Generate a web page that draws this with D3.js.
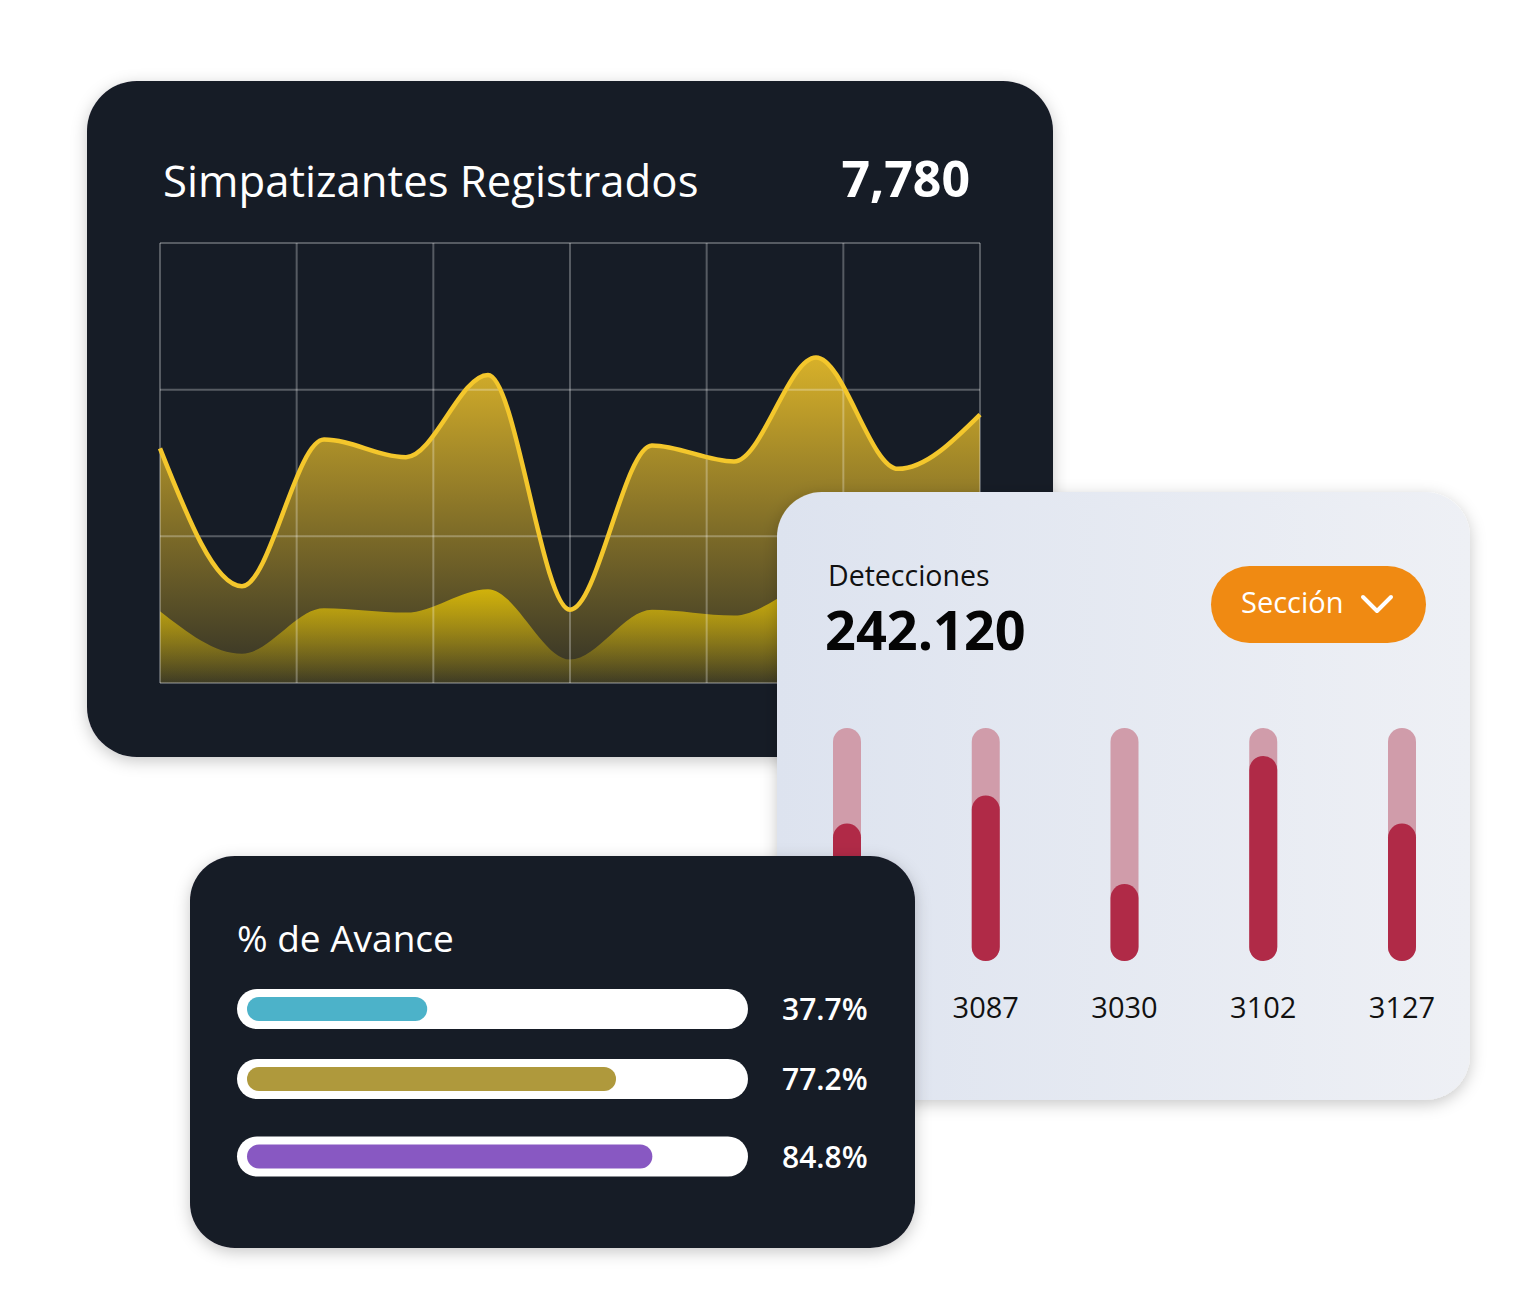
<!DOCTYPE html>
<html>
<head>
<meta charset="utf-8">
<script src="https://cdn.jsdelivr.net/npm/d3@7"></script>
<style>
  body { margin: 0; background: #fff; }
  svg { display: block; font-family: "Open Sans", "Noto Sans", sans-serif; }
</style>
</head>
<body>
<svg width="1538" height="1302"></svg>
<script>
// simpatizantes (two series, 11 points each)
var puntos = [0, 1, 2, 3, 4, 5, 6, 7, 8, 9, 10];
var serieAlta = [160, 66, 166, 154, 210, 50, 162, 151, 222, 146, 183];
var serieBaja = [49, 20, 51, 48, 64, 16, 50, 46, 67, 22, 46];

// detecciones (first label sits under the avance card)
var seccionLabels = ['', '3087', '3030', '3102', '3127'];
var seccionValues = [0.59, 0.71, 0.33, 0.88, 0.59];

// avance
var avanceLabels = ['37.7%', '77.2%', '84.8%'];
var avanceValues = [37.7, 77.2, 84.8];
var avanceColors = ['#4cb2c9', '#af993c', '#8858c2'];

var svg = d3.select('svg');
var defs = svg.append('defs');

var shadow = defs.append('filter').attr('id', 'sombra')
    .attr('x', '-10%').attr('y', '-10%').attr('width', '120%').attr('height', '125%');
shadow.append('feDropShadow')
    .attr('dx', 0).attr('dy', 4).attr('stdDeviation', 8)
    .attr('flood-color', '#000').attr('flood-opacity', 0.22);

// ---------- card 1 ----------
var card1 = svg.append('g');
card1.append('rect')
    .attr('x', 87).attr('y', 81).attr('width', 966).attr('height', 676)
    .attr('rx', 50).attr('fill', '#161a26').attr('filter', 'url(#sombra)');

card1.append('text')
    .attr('x', 163).attr('y', 197)
    .attr('fill', '#fff').attr('font-size', 43.7)
    .text('Simpatizantes Registrados');
card1.append('text')
    .attr('x', 970).attr('y', 197).attr('text-anchor', 'end')
    .attr('fill', '#fff').attr('font-size', 50).attr('font-weight', 700)
    .text('7,780');

var scaleX = d3.scaleLinear().domain([0, 10]).range([160, 980]);
var scaleY = d3.scaleLinear().domain([0, 300]).range([683, 243]);

var gAlta = defs.append('linearGradient').attr('id', 'gAlta')
    .attr('gradientUnits', 'userSpaceOnUse')
    .attr('x1', 0).attr('x2', 0).attr('y1', scaleY(d3.max(serieAlta))).attr('y2', scaleY(0));
gAlta.append('stop').attr('offset', 0).attr('stop-color', '#f2c52a').attr('stop-opacity', 0.88);
gAlta.append('stop').attr('offset', 1).attr('stop-color', '#f2c52a').attr('stop-opacity', 0.12);

var gBaja = defs.append('linearGradient').attr('id', 'gBaja')
    .attr('gradientUnits', 'userSpaceOnUse')
    .attr('x1', 0).attr('x2', 0).attr('y1', scaleY(d3.max(serieBaja))).attr('y2', scaleY(0));
gBaja.append('stop').attr('offset', 0).attr('stop-color', '#dcbb08').attr('stop-opacity', 0.95);
gBaja.append('stop').attr('offset', 1).attr('stop-color', '#dcbb08').attr('stop-opacity', 0.08);

var areaAlta = d3.area()
    .x(function(d, i) { return scaleX(puntos[i]); })
    .y0(scaleY(0))
    .y1(function(d) { return scaleY(d); })
    .curve(d3.curveMonotoneX);

var lineAlta = d3.line()
    .x(function(d, i) { return scaleX(puntos[i]); })
    .y(function(d) { return scaleY(d); })
    .curve(d3.curveMonotoneX);

card1.append('path').datum(serieAlta).attr('d', areaAlta).attr('fill', 'url(#gAlta)');
card1.append('path').datum(serieBaja).attr('d', areaAlta).attr('fill', 'url(#gBaja)');

// grid on top of the fills
var grid = card1.append('g')
    .attr('stroke', '#fff').attr('stroke-opacity', 0.28).attr('stroke-width', 2).attr('fill', 'none');
grid.selectAll('.v')
    .data(d3.range(0, 11, 10 / 6))
    .enter().append('line')
    .attr('x1', function(d) { return scaleX(d); })
    .attr('x2', function(d) { return scaleX(d); })
    .attr('y1', scaleY(300)).attr('y2', scaleY(0));
grid.selectAll('.h')
    .data([0, 100, 200, 300])
    .enter().append('line')
    .attr('x1', scaleX(0)).attr('x2', scaleX(10))
    .attr('y1', function(d) { return scaleY(d); })
    .attr('y2', function(d) { return scaleY(d); });

card1.append('path').datum(serieAlta).attr('d', lineAlta)
    .attr('fill', 'none').attr('stroke', '#f4c72c').attr('stroke-width', 4.5);

// ---------- card 2 ----------
var gCard2 = defs.append('linearGradient').attr('id', 'gCard2')
    .attr('x1', 0).attr('x2', 1).attr('y1', 0).attr('y2', 0);
gCard2.append('stop').attr('offset', 0).attr('stop-color', '#dde3ef');
gCard2.append('stop').attr('offset', 1).attr('stop-color', '#eef0f5');

var card2 = svg.append('g');
card2.append('rect')
    .attr('x', 777).attr('y', 492).attr('width', 693).attr('height', 608)
    .attr('rx', 45).attr('fill', 'url(#gCard2)').attr('filter', 'url(#sombra)');

card2.append('text')
    .attr('x', 828).attr('y', 586)
    .attr('fill', '#111').attr('font-size', 28.5)
    .text('Detecciones');
card2.append('text')
    .attr('x', 825).attr('y', 650)
    .attr('fill', '#050505').attr('font-size', 54).attr('font-weight', 700)
    .text('242.120');

card2.append('rect')
    .attr('x', 1211).attr('y', 566).attr('width', 215).attr('height', 77)
    .attr('rx', 38.5).attr('fill', '#f08a12');
card2.append('text')
    .attr('x', 1241).attr('y', 613)
    .attr('fill', '#fff').attr('font-size', 29).attr('font-weight', 500)
    .text('Sección');
card2.append('path')
    .attr('d', 'M1363,597 L1377,611 L1391,597')
    .attr('fill', 'none').attr('stroke', '#fff').attr('stroke-width', 4)
    .attr('stroke-linecap', 'round').attr('stroke-linejoin', 'round');

var idx = d3.range(seccionValues.length);
var scaleBand = d3.scalePoint().domain(idx).range([847, 1402]);
var scaleBar = d3.scaleLinear().domain([0, 1]).range([961, 728]);
var barW = 28;

var bars = card2.selectAll('.barra')
    .data(idx)
    .enter().append('g');
bars.append('rect')
    .attr('x', function(i) { return scaleBand(i) - barW / 2; })
    .attr('y', scaleBar(1))
    .attr('width', barW)
    .attr('height', scaleBar(0) - scaleBar(1))
    .attr('rx', barW / 2)
    .attr('fill', '#d09caa');
bars.append('rect')
    .attr('x', function(i) { return scaleBand(i) - barW / 2; })
    .attr('y', function(i) { return scaleBar(seccionValues[i]); })
    .attr('width', barW)
    .attr('height', function(i) { return scaleBar(0) - scaleBar(seccionValues[i]); })
    .attr('rx', barW / 2)
    .attr('fill', '#b02a47');
bars.filter(function(i) { return seccionLabels[i] !== ''; })
    .append('text')
    .attr('x', function(i) { return scaleBand(i); })
    .attr('y', 1018)
    .attr('text-anchor', 'middle')
    .attr('fill', '#111').attr('font-size', 29)
    .text(function(i) { return seccionLabels[i]; });

// ---------- card 3 ----------
var card3 = svg.append('g');
card3.append('rect')
    .attr('x', 190).attr('y', 856).attr('width', 725).attr('height', 392)
    .attr('rx', 45).attr('fill', '#161a26').attr('filter', 'url(#sombra)');

card3.append('text')
    .attr('x', 237).attr('y', 952)
    .attr('fill', '#fff').attr('font-size', 37)
    .text('% de Avance');

var rowY = [1009, 1079, 1156.5];
var scaleAvance = d3.scaleLinear().domain([0, 100]).range([0, 478]);

var rows = card3.selectAll('.fila')
    .data(avanceValues)
    .enter().append('g');
rows.append('rect')
    .attr('x', 237).attr('y', function(d, i) { return rowY[i] - 20; })
    .attr('width', 511).attr('height', 40).attr('rx', 20)
    .attr('fill', '#fff');
rows.append('rect')
    .attr('x', 247).attr('y', function(d, i) { return rowY[i] - 12; })
    .attr('width', function(d) { return scaleAvance(d); })
    .attr('height', 24).attr('rx', 12)
    .attr('fill', function(d, i) { return avanceColors[i]; });
rows.append('text')
    .attr('x', 782).attr('y', function(d, i) { return rowY[i] + 11; })
    .attr('fill', '#fff').attr('font-size', 30).attr('font-weight', 600)
    .text(function(d, i) { return avanceLabels[i]; });
</script>
</body>
</html>
